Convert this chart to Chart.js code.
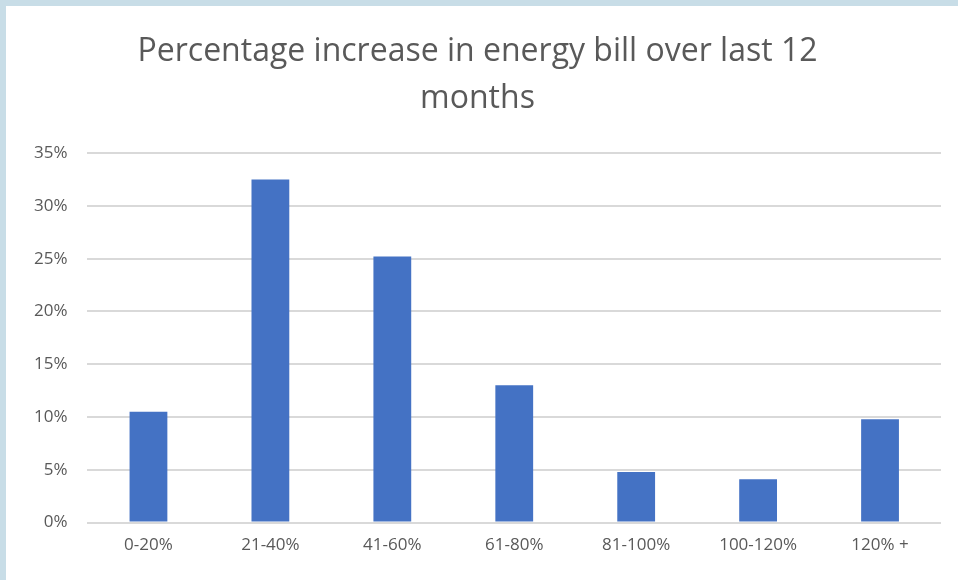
<!DOCTYPE html>
<html>
<head>
<meta charset="utf-8">
<script src="https://cdn.jsdelivr.net/npm/chart.js@4/dist/chart.umd.min.js"></script>
<style>
  html, body { margin: 0; padding: 0; }
  body { width: 958px; height: 580px; background: #c8dde7; position: relative; overflow: hidden; }
  #card { position: absolute; left: 6px; top: 6px; width: 952px; height: 574px; background: #ffffff; }
</style>
</head>
<body>
<div id="card"><canvas id="Chart" width="952" height="574"></canvas></div>
<script>
// chart data
const labels = ["0-20%", "21-40%", "41-60%", "61-80%", "81-100%", "100-120%", "120% +"];
const values = [10.5, 32.5, 25.2, 13.0, 4.8, 4.1, 9.8];
const titleLines = ["Percentage increase in energy bill over last 12", "months"];

const data = {
  labels: labels,
  datasets: [
    {
      label: "Percentage",
      backgroundColor: "#4472c4",
      borderColor: "#4472c4",
      data: values,
      barPercentage: 0.31,
      categoryPercentage: 1,
    },
  ],
};

const config = {
  type: "bar",
  data: data,
  options: {
    responsive: false,
    animation: false,
    layout: { padding: { left: 8, right: 17, top: 0, bottom: 13 } },
    plugins: {
      legend: { display: false },
      tooltip: { enabled: false },
      title: {
        display: true,
        text: titleLines,
        color: "#595959",
        font: { family: "Open Sans", size: 32, weight: "normal", lineHeight: 1.47 },
        padding: { top: 22, bottom: 31 },
      },
    },
    scales: {
      x: {
        grid: { display: false, drawTicks: false },
        border: { display: false },
        ticks: { color: "#595959", font: { family: "Open Sans", size: 17 }, padding: 12 },
      },
      y: {
        min: 0,
        max: 35,
        grid: { color: "#d9d9d9", lineWidth: 2, drawTicks: false },
        border: { display: false },
        ticks: {
          stepSize: 5,
          color: "#595959",
          font: { family: "Open Sans", size: 17 },
          padding: 20,
          callback: (v) => v + "%",
        },
      },
    },
  },
};

// RENDERING THE GRAPH
const myChart = new Chart(document.getElementById("Chart"), config);
</script>
</body>
</html>
